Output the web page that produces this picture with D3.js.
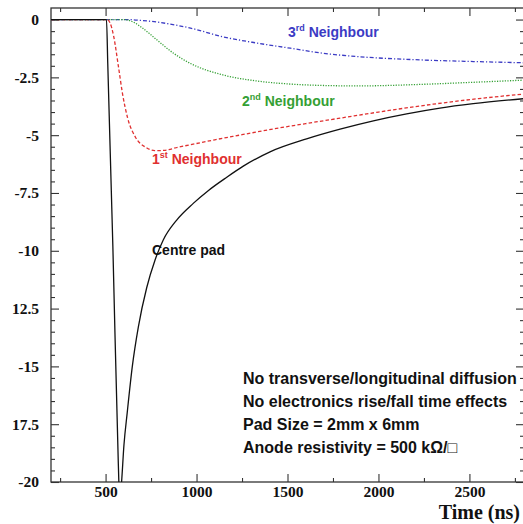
<!DOCTYPE html>
<html>
<head>
<meta charset="utf-8">
<script src="https://cdn.jsdelivr.net/npm/d3@7"></script>
<style>
  html, body { margin: 0; padding: 0; background: #fff; }
  svg { display: block; }
</style>
</head>
<body>
<svg id="chart" width="523" height="524"></svg>
<script>
// Induced signal on the centre pad and its neighbours (time in ns, signal in arbitrary units)
const centreT = [200, 505, 512, 540, 570, 578, 588, 601, 619, 647, 680, 726, 772, 817, 891, 982, 1064, 1166, 1257, 1404, 1605, 1789, 1972, 2155, 2338, 2521, 2800];
const centreV = [0, 0, -1.9, -9.8, -19.2, -20.9, -20.0, -18.4, -17.0, -15.0, -13.3, -11.6, -10.4, -9.53, -8.67, -7.95, -7.4, -6.82, -6.34, -5.72, -5.16, -4.74, -4.38, -4.08, -3.83, -3.64, -3.42];

const firstT = [200, 508, 525, 544, 571, 593, 621, 665, 720, 770, 820, 900, 1000, 1100, 1250, 1400, 1600, 1800, 2000, 2300, 2550, 2800];
const firstV = [0, 0, -0.15, -0.7, -2.05, -3.2, -4.25, -5.1, -5.52, -5.67, -5.66, -5.52, -5.36, -5.2, -4.98, -4.76, -4.5, -4.25, -4.0, -3.66, -3.42, -3.22];

const secondT = [200, 600, 650, 700, 785, 874, 967, 1148, 1335, 1516, 1750, 1885, 2247, 2500, 2800];
const secondV = [0, 0, -0.1, -0.35, -0.9, -1.46, -1.9, -2.4, -2.66, -2.79, -2.86, -2.87, -2.8, -2.72, -2.62];

const thirdT = [200, 620, 700, 785, 880, 967, 1148, 1335, 1516, 1698, 1885, 2247, 2500, 2800];
const thirdV = [0, 0, -0.04, -0.11, -0.23, -0.37, -0.75, -1.02, -1.24, -1.46, -1.6, -1.75, -1.81, -1.87];

const xMajorTicks = [500, 1000, 1500, 2000, 2500];
const yMajorTicks = [0, -2.5, -5, -7.5, -10, -12.5, -15, -17.5, -20];
const yTickLabels = ["0", "-2.5", "-5", "-7.5", "-10", "12.5", "-15", "17.5", "-20"];

const notes = [
  "No transverse/longitudinal diffusion",
  "No electronics rise/fall time effects",
  "Pad Size = 2mm x 6mm",
  "Anode resistivity = 500 k\u03A9/\u25A1"
];

const svg = d3.select("#chart");
const frame = { left: 51, right: 524, top: 8, bottom: 482 };

const x = d3.scaleLinear().domain([200, 2800]).range([frame.left, frame.right]);
const y = d3.scaleLinear().domain([-20, 0.5]).range([frame.bottom, frame.top]);

const serif = "'Liberation Serif', 'Times New Roman', serif";
const sans = "'Liberation Sans', Arial, Helvetica, sans-serif";

// clip the curves to the frame
svg.append("defs").append("clipPath").attr("id", "plot-clip")
  .append("rect").attr("x", frame.left).attr("y", frame.top)
  .attr("width", frame.right - frame.left).attr("height", frame.bottom - frame.top);

const xMinor = d3.range(250, 2801, 250).filter(v => !xMajorTicks.includes(v));
const yMinor = d3.range(0, -20.01, -0.5).filter(v => !yMajorTicks.some(m => Math.abs(m - v) < 1e-6));

function styleAxis(g) {
  g.select(".domain").remove();
  g.selectAll(".tick line").attr("stroke", "#333").attr("stroke-width", 1.1);
}
function styleLabels(g) {
  g.selectAll("text").attr("font-family", serif).attr("font-weight", "bold")
    .attr("font-size", 15.5).attr("fill", "#111");
}

// bottom axis with labels
svg.append("g").attr("transform", `translate(0,${frame.bottom})`)
  .call(d3.axisBottom(x).tickValues(xMajorTicks).tickSize(-8).tickPadding(4).tickFormat(d3.format("d")))
  .call(styleAxis).call(styleLabels);
svg.append("g").attr("transform", `translate(0,${frame.bottom})`)
  .call(d3.axisBottom(x).tickValues(xMinor).tickSize(-4).tickFormat(""))
  .call(styleAxis);

// top axis (ticks only)
svg.append("g").attr("transform", `translate(0,${frame.top})`)
  .call(d3.axisTop(x).tickValues(xMajorTicks).tickSize(-8).tickFormat(""))
  .call(styleAxis);
svg.append("g").attr("transform", `translate(0,${frame.top})`)
  .call(d3.axisTop(x).tickValues(xMinor).tickSize(-4).tickFormat(""))
  .call(styleAxis);

// left axis with labels
svg.append("g").attr("transform", `translate(${frame.left},0)`)
  .call(d3.axisLeft(y).tickValues(yMajorTicks).tickSize(-8).tickPadding(12)
    .tickFormat((d, i) => yTickLabels[i]))
  .call(styleAxis).call(styleLabels);
svg.append("g").attr("transform", `translate(${frame.left},0)`)
  .call(d3.axisLeft(y).tickValues(yMinor).tickSize(-4).tickFormat(""))
  .call(styleAxis);

// right axis (ticks only)
svg.append("g").attr("transform", `translate(${frame.right},0)`)
  .call(d3.axisRight(y).tickValues(yMajorTicks).tickSize(-8).tickFormat(""))
  .call(styleAxis);
svg.append("g").attr("transform", `translate(${frame.right},0)`)
  .call(d3.axisRight(y).tickValues(yMinor).tickSize(-4).tickFormat(""))
  .call(styleAxis);

// frame
svg.append("rect").attr("x", frame.left).attr("y", frame.top)
  .attr("width", frame.right - frame.left).attr("height", frame.bottom - frame.top)
  .attr("fill", "none").attr("stroke", "#333").attr("stroke-width", 1.3);

const line = d3.line().x(d => x(d[0])).y(d => y(d[1])).curve(d3.curveMonotoneX);
const curves = [
  { t: thirdT, v: thirdV, color: "#3b3bc4", dash: "4,2,1.2,2" },
  { t: secondT, v: secondV, color: "#34a034", dash: "1.2,1.4" },
  { t: firstT, v: firstV, color: "#e03030", dash: "3.5,2.2" },
  { t: centreT, v: centreV, color: "#111", dash: null }
];

const plot = svg.append("g").attr("clip-path", "url(#plot-clip)");
curves.forEach(c => {
  plot.append("path")
    .datum(d3.zip(c.t, c.v))
    .attr("d", line)
    .attr("fill", "none")
    .attr("stroke", c.color)
    .attr("stroke-width", 1.3)
    .attr("stroke-dasharray", c.dash);
});

// curve labels
function label(xp, yp, color, lead, sup, rest) {
  const t = svg.append("text").attr("x", xp).attr("y", yp)
    .attr("font-family", sans).attr("font-weight", "bold").attr("font-size", 14)
    .attr("fill", color);
  t.append("tspan").text(lead);
  if (sup) {
    t.append("tspan").attr("font-size", 9).attr("dy", -6).text(sup);
    t.append("tspan").attr("dy", 6).text(rest);
  } else {
    t.append("tspan").text(rest);
  }
}
label(288, 37, "#3b3bc4", "3", "rd", " Neighbour");
label(242, 106, "#34a034", "2", "nd", " Neighbour");
label(152, 164, "#e03030", "1", "st", " Neighbour");
label(152, 255, "#111", "", null, "Centre pad");

// simulation conditions
svg.append("g").selectAll("text").data(notes).join("text")
  .attr("x", 243)
  .attr("y", (d, i) => 384 + i * 23)
  .attr("font-family", sans).attr("font-weight", "bold").attr("font-size", 16)
  .attr("fill", "#111")
  .text(d => d);

// axis title
svg.append("text").attr("x", 520).attr("y", 519)
  .attr("text-anchor", "end")
  .attr("font-family", serif).attr("font-weight", "bold").attr("font-size", 20)
  .attr("fill", "#111")
  .text("Time (ns)");
</script>
</body>
</html>
